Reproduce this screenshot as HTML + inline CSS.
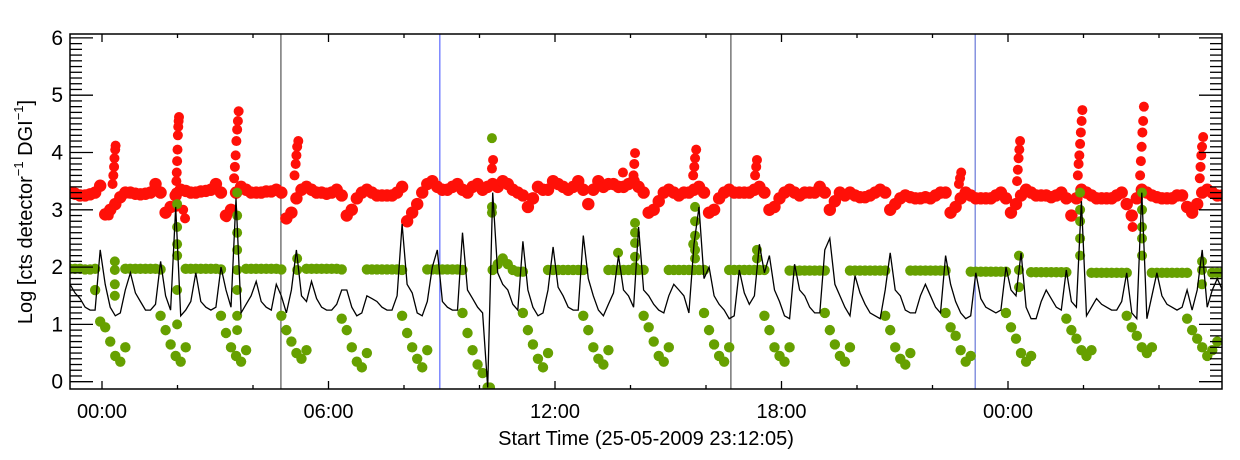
<!DOCTYPE html>
<html><head><meta charset="utf-8"><style>
html,body{margin:0;padding:0;background:#fff;}
svg{display:block;font-family:"Liberation Sans",sans-serif;}
</style></head><body>
<svg id="chart" width="1240" height="460" viewBox="0 0 1240 460" xmlns="http://www.w3.org/2000/svg">
<defs><clipPath id="plotclip"><rect x="70" y="34" width="1152" height="355"/></clipPath></defs>
<rect x="0" y="0" width="1240" height="460" fill="#fff"/>
<g id="marks" clip-path="url(#plotclip)"></g>
<g id="axes"></g>
</svg>
<script>
const n = null;
const sampleStart = -0.848;
const sampleStep = 0.1333;
const yTicks = [0,1,2,3,4,5,6];
const xTickHours = [0,6,12,18,24];
const xTickLabels = ['00:00','06:00','12:00','18:00','00:00'];
const xMinorHours = [2,4,8,10,14,16,20,22,26,28];
const eventHours = [4.74,8.95,16.66,23.13];
const eventColors = ['#333333','#3a4cff','#333333','#4a5cd0'];

const redV = [3.3,3.28,3.25,3.25,3.27,3.3,3.42,
2.92,3.0,3.1,3.22,3.3,3.3,3.28,3.27,3.28,3.3,3.45,3.3,
2.95,3.05,3.25,3.35,3.33,3.3,3.3,3.32,3.33,3.35,3.45,3.3,
2.9,3.0,3.3,3.4,3.35,3.3,3.3,3.3,3.32,3.32,3.35,3.3,
2.85,2.95,3.2,3.35,3.4,3.35,3.3,3.3,3.28,3.3,3.35,3.25,
2.9,3.0,3.2,3.3,3.35,3.3,3.25,3.25,3.25,3.25,3.3,3.4,
2.8,2.95,3.1,3.3,3.45,3.5,3.4,3.35,3.35,3.4,3.45,3.35,
3.3,3.4,3.45,3.35,3.4,3.45,3.4,3.5,3.45,3.35,3.3,3.25,
3.05,3.2,3.4,3.35,3.35,3.5,3.45,3.4,3.35,3.4,3.5,3.35,
3.1,3.35,3.5,3.4,3.45,3.45,3.4,3.4,3.45,3.5,3.4,3.3,
2.95,3.0,3.15,3.3,3.35,3.3,3.25,3.3,3.3,3.35,3.4,3.3,
2.95,3.0,3.2,3.3,3.35,3.3,3.3,3.3,3.3,3.35,3.4,3.3,
3.0,3.05,3.2,3.3,3.35,3.3,3.25,3.3,3.3,3.3,3.4,3.3,
3.0,3.15,3.3,3.25,3.3,3.25,3.22,3.22,3.25,3.3,3.35,3.3,
3.0,3.1,3.2,3.25,3.22,3.2,3.2,3.22,3.2,3.25,3.3,3.3,
2.95,3.05,3.2,3.3,3.25,3.2,3.2,3.2,3.2,3.25,3.3,3.2,
2.95,3.1,3.25,3.35,3.3,3.25,3.25,3.25,3.22,3.25,3.3,3.2,
2.9,3.2,3.35,3.3,3.25,3.2,3.2,3.2,3.2,3.25,3.3,3.1,
2.9,3.2,3.35,3.3,3.25,3.22,3.2,3.2,3.2,3.25,3.25,3.05,
2.95,3.1,3.3,3.35,3.3,3.25,3.25,3.25];

const redSpikeT = [0.28,0.3,0.32,0.33,0.35,0.36,0.18,0.22,
1.95,1.96,1.97,1.98,1.99,2.0,2.01,2.02,2.03,2.04,2.15,2.2,
3.5,3.52,3.54,3.56,3.58,3.6,3.62,3.3,
5.1,5.13,5.15,5.17,5.2,
10.33,10.36,13.8,14.08,14.1,14.12,
15.66,15.69,15.71,15.74,17.3,17.33,17.35,
22.7,22.73,22.76,24.24,24.26,24.28,24.3,24.32,
25.85,25.87,25.89,25.91,25.93,25.95,25.97,
27.5,27.52,27.54,27.56,27.58,27.6,27.3,
29.08,29.1,29.12,29.14,29.17];
const redSpikeV = [3.45,3.6,3.75,3.9,4.05,4.12,2.9,3.0,
3.05,3.3,3.5,3.65,3.85,4.05,4.3,4.45,4.55,4.62,3.0,2.85,
3.55,3.75,3.95,4.2,4.4,4.55,4.72,2.87,
3.6,3.8,3.95,4.1,4.2,
3.72,3.87,3.65,3.6,3.8,3.99,
3.6,3.75,3.9,4.05,3.6,3.75,3.87,
3.45,3.55,3.65,3.5,3.7,3.9,4.05,4.2,
3.6,3.8,3.95,4.15,4.35,4.55,4.74,
3.6,3.85,4.1,4.35,4.55,4.8,2.7,
3.55,3.75,3.95,4.1,4.27];

const greenHi = [1.97,1.97,1.97,1.96,1.96,1.97,n,
n,n,n,n,1.97,1.97,1.97,1.97,1.97,1.97,1.97,1.96,
n,n,n,n,1.97,1.97,1.97,1.97,1.97,1.97,1.97,1.96,
n,n,n,n,1.97,1.97,1.97,1.97,1.97,1.97,1.97,1.96,
n,n,n,n,1.97,1.97,1.97,1.97,1.97,1.97,1.97,1.96,
n,n,n,n,1.96,1.96,1.96,1.96,1.96,1.96,1.96,1.95,
n,n,n,n,1.96,1.96,1.96,1.96,1.96,1.96,1.96,1.95,
n,n,n,n,n,1.95,2.05,2.15,2.05,1.95,1.92,1.92,
n,n,n,n,1.95,1.95,1.95,1.95,1.95,1.95,1.95,1.95,
n,n,n,n,1.95,1.95,1.95,1.95,1.95,1.95,1.95,1.95,
n,n,n,n,1.95,1.95,1.95,1.95,1.95,1.95,1.95,1.95,
n,n,n,n,1.95,1.95,1.95,1.95,1.95,1.95,1.95,1.95,
n,n,n,n,1.94,1.94,1.94,1.94,1.94,1.94,1.94,1.94,
n,n,n,n,1.94,1.94,1.94,1.94,1.94,1.94,1.94,1.94,
n,n,n,n,1.94,1.94,1.94,1.94,1.94,1.94,1.94,1.94,
n,n,n,n,1.92,1.92,1.92,1.92,1.92,1.92,1.92,1.92,
n,n,n,n,1.91,1.91,1.91,1.91,1.91,1.91,1.91,1.91,
n,n,n,n,1.9,1.9,1.9,1.9,1.9,1.9,1.9,1.9,
n,n,n,n,1.9,1.9,1.9,1.9,1.9,1.9,1.9,1.9,
n,n,n,n,1.9,1.9,1.9,1.9];

const greenLo = [n,n,n,n,n,1.6,1.05,
0.95,0.7,0.45,0.35,0.6,n,n,n,n,n,n,1.15,
0.9,0.65,0.45,0.35,0.6,n,n,n,n,n,n,1.15,
0.85,0.6,0.45,0.35,0.55,n,n,n,n,n,n,1.15,
0.9,0.7,0.5,0.4,0.55,n,n,n,n,n,n,1.1,
0.9,0.6,0.35,0.25,0.5,n,n,n,n,n,n,1.15,
0.85,0.6,0.4,0.25,0.55,n,n,n,n,n,n,1.2,
0.85,0.55,0.3,0.15,-0.1,n,n,n,n,n,n,1.2,
0.9,0.65,0.4,0.25,0.5,n,n,n,n,n,n,1.15,
0.9,0.6,0.4,0.3,0.55,n,n,n,n,n,n,1.15,
0.95,0.7,0.45,0.35,0.6,n,n,n,n,n,n,1.2,
0.9,0.65,0.45,0.35,0.6,n,n,n,n,n,n,1.15,
0.9,0.6,0.45,0.35,0.6,n,n,n,n,n,n,1.2,
0.9,0.65,0.45,0.35,0.6,n,n,n,n,n,n,1.15,
0.9,0.6,0.4,0.3,0.5,n,n,n,n,n,n,1.2,
0.95,0.8,0.55,0.35,0.45,n,n,n,n,n,n,1.2,
0.95,0.75,0.5,0.35,0.45,n,n,n,n,n,n,1.1,
0.9,0.75,0.55,0.45,0.55,n,n,n,n,n,n,1.15,
0.95,0.8,0.6,0.5,0.6,n,n,n,n,n,n,1.1,
0.9,0.75,0.6,0.45,0.55,0.7,n,n];

const greenSpikeT = [0.34,0.34,0.34,0.34,
1.99,1.99,1.99,1.99,1.99,1.99,
3.58,3.58,3.58,3.58,3.58,3.58,3.58,3.58,
5.17,5.17,
10.33,10.33,10.33,10.28,
13.67,14.12,14.12,14.12,14.12,14.12,
15.71,15.71,15.71,15.71,15.71,15.66,
17.35,17.35,
24.29,24.29,24.29,
25.91,25.91,25.91,25.91,25.91,
27.55,27.55,27.55,27.55,27.55,
29.14,29.14,29.14];
const greenSpikeV = [2.1,1.95,1.7,1.5,
3.1,2.7,2.4,2.2,1.6,1.0,
3.3,2.9,2.6,2.3,1.95,1.6,1.15,0.9,
2.15,1.95,
4.25,3.05,2.95,-0.1,
2.25,2.77,2.6,2.42,2.18,2.0,
3.05,2.8,2.55,2.3,2.15,2.4,
2.3,2.15,
2.2,1.95,1.65,
3.3,3.0,2.8,2.5,2.2,
3.3,3.0,2.7,2.5,2.2,
2.1,1.95,1.7];

const blackV = [1.7,1.55,1.45,1.3,1.25,1.25,2.3,
1.7,1.3,1.15,1.2,1.6,1.9,1.55,1.4,1.25,1.25,1.35,2.1,
1.5,1.25,3.05,1.15,1.25,1.4,1.9,1.4,1.3,1.25,1.3,2.0,
1.6,1.3,3.2,1.2,1.35,1.5,1.75,1.4,1.3,1.25,1.7,1.5,
1.2,1.6,2.3,1.5,1.4,1.75,1.45,1.3,1.25,1.25,1.35,1.6,
1.6,1.3,1.15,1.2,1.5,1.45,1.4,1.3,1.25,1.25,1.5,2.75,
1.7,1.55,1.2,1.15,1.4,2.0,2.3,1.4,1.3,1.25,1.25,2.6,
1.6,1.45,1.3,1.2,-0.1,3.3,1.9,1.7,1.6,1.35,1.25,2.45,
1.6,1.3,1.15,1.2,1.6,2.35,1.65,1.5,1.3,1.25,1.25,2.55,
1.8,1.5,1.25,1.15,1.35,1.55,2.2,1.6,1.5,1.3,2.7,1.6,
1.5,1.35,1.25,1.2,1.5,1.7,1.6,1.5,1.2,2.4,3.05,1.8,
2.0,1.5,1.35,1.25,1.1,1.15,1.95,1.55,1.35,1.5,2.4,1.9,
2.2,1.6,1.4,1.15,1.1,2.05,1.6,1.5,1.3,1.2,1.2,2.3,
2.5,1.7,1.5,1.3,1.15,1.85,1.55,1.35,1.2,1.15,1.1,1.6,
2.25,1.6,1.5,1.25,1.2,1.2,1.5,1.7,1.5,1.3,1.2,2.2,
1.7,1.4,1.2,1.1,1.15,1.9,1.45,1.3,1.25,1.2,1.25,2.0,
1.6,1.5,2.25,1.3,1.1,1.1,1.4,1.6,1.45,1.3,1.25,1.95,
1.4,1.3,3.15,1.15,1.3,1.45,1.35,1.3,1.25,1.25,1.4,1.9,
1.2,1.1,3.3,1.1,1.5,1.9,1.5,1.35,1.3,1.25,1.3,1.6,
1.25,1.6,2.3,1.3,1.6,1.8,1.6,1.7];

const NS = 'http://www.w3.org/2000/svg';
const X = h => 102 + 37.75 * h;
const Y = v => 381.7 - 57.3 * v;
const sampleT = i => sampleStart + i * sampleStep;
const marks = document.getElementById('marks');
const axes = document.getElementById('axes');
function mk(tag, attrs, parent) {
  const e = document.createElementNS(NS, tag);
  for (const k in attrs) e.setAttribute(k, attrs[k]);
  parent.appendChild(e);
  return e;
}

eventHours.forEach((h, i) => {
  const l = mk('line', {x1: X(h), x2: X(h), y1: 34, y2: 389, stroke: eventColors[i], 'stroke-width': 1}, marks);
  
  
});

const gRed = mk('g', {fill: '#ff1008'}, marks);


redV.forEach((v, i) => {
  const c = mk('circle', {cx: X(sampleT(i)), cy: Y(v), r: 6.2}, gRed);
  
  
});
redSpikeT.forEach((t, i) => {
  const c = mk('circle', {cx: X(t), cy: Y(redSpikeV[i]), r: 5}, gRed);
  
  
});

const gGreen = mk('g', {fill: '#66a000'}, marks);


[greenHi, greenLo].forEach(arr => arr.forEach((v, i) => {
  if (v === null) return;
  const c = mk('circle', {cx: X(sampleT(i)), cy: Y(v), r: 5.2}, gGreen);
  
  
}));
greenSpikeT.forEach((t, i) => {
  const c = mk('circle', {cx: X(t), cy: Y(greenSpikeV[i]), r: 5}, gGreen);
  
  
});

const pts = blackV.map((v, i) => X(sampleT(i)).toFixed(1) + ',' + Y(v).toFixed(1)).join(' ');
const bl = mk('polyline', {points: pts, fill: 'none', stroke: '#000', 'stroke-width': 1.3}, marks);



const fr = mk('rect', {x: 70, y: 34, width: 1152, height: 355, fill: 'none', stroke: '#000', 'stroke-width': 1.5}, axes);



for (let k = 0; k <= 61; k++) {
  const v = k / 10;
  const len = (k % 10 === 0) ? 23 : 12;
  const y = Y(v);
  if (y < 34 || y > 389) continue;
  const t1 = mk('line', {x1: 70, x2: 70 + len, y1: y, y2: y, stroke: '#000', 'stroke-width': 1.3}, axes);
  
  
  const t2 = mk('line', {x1: 1222 - len, x2: 1222, y1: y, y2: y, stroke: '#000', 'stroke-width': 1.3}, axes);
  
  
}
yTicks.forEach(v => {
  const t = mk('text', {x: 63, y: Y(v) + 7, 'text-anchor': 'end', 'font-size': 21, fill: '#000'}, axes);
  t.textContent = String(v);
  
  
});

xTickHours.forEach((h, i) => {
  const b = mk('line', {x1: X(h), x2: X(h), y1: 389, y2: 381, stroke: '#000', 'stroke-width': 1.3}, axes);
  
  
  const tp = mk('line', {x1: X(h), x2: X(h), y1: 34, y2: 42, stroke: '#000', 'stroke-width': 1.3}, axes);
  
  
  const t = mk('text', {x: X(h), y: 418, 'text-anchor': 'middle', 'font-size': 20, fill: '#000'}, axes);
  t.textContent = xTickLabels[i];
  
  
});
xMinorHours.forEach(h => {
  const b = mk('line', {x1: X(h), x2: X(h), y1: 389, y2: 385, stroke: '#000', 'stroke-width': 1.3}, axes);
  
  
  const tp = mk('line', {x1: X(h), x2: X(h), y1: 34, y2: 38, stroke: '#000', 'stroke-width': 1.3}, axes);
  
  
});

const xt = mk('text', {x: 646, y: 445, 'text-anchor': 'middle', 'font-size': 20}, axes);
xt.textContent = 'Start Time (25-05-2009 23:12:05)';


const yt = mk('text', {transform: 'translate(32,212) rotate(-90)', 'text-anchor': 'middle', 'font-size': 20}, axes);
yt.innerHTML = 'Log [cts detector<tspan font-size="13" dy="-9">−1</tspan><tspan dy="9"> DGI</tspan><tspan font-size="13" dy="-9">−1</tspan><tspan dy="9">]</tspan>';


</script>
</body></html>
